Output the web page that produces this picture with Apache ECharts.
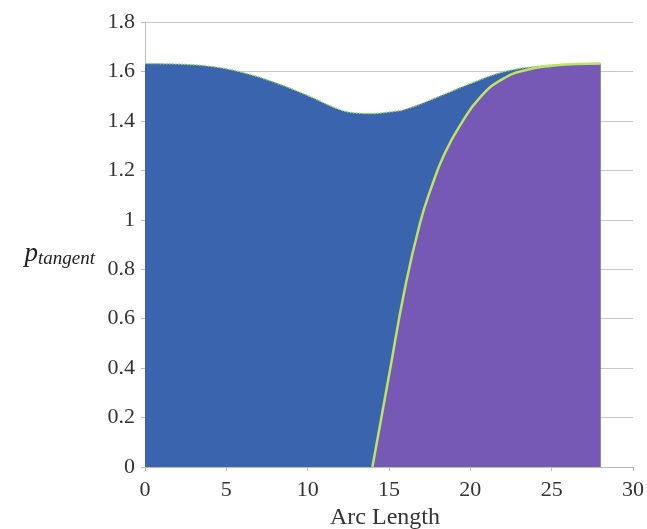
<!DOCTYPE html>
<html>
<head>
<meta charset="utf-8">
<script src="https://cdn.jsdelivr.net/npm/echarts@6/dist/echarts.min.js"></script>
<style>
  html, body { margin: 0; padding: 0; background: #fff; }
  #chart { width: 647px; height: 529px; }
</style>
</head>
<body>
<div id="chart"></div>
<script>
// total tangent momentum (blue)
var blueX = [0, 2, 4, 6, 8, 10, 12, 13, 14, 15, 16, 18, 20, 22, 24, 26, 28];
var blueY = [1.632, 1.630, 1.621, 1.596, 1.555, 1.503, 1.445, 1.432, 1.430, 1.436, 1.447, 1.497, 1.551, 1.598, 1.620, 1.629, 1.632];

// second region (purple)
var purpleX = [13.98, 15, 16, 16.9, 17.6, 18.4, 19.4, 20.6, 22, 23.5, 25, 26.5, 28];
var purpleY = [0, 0.37, 0.73, 0.985, 1.13, 1.265, 1.385, 1.495, 1.57, 1.607, 1.623, 1.630, 1.632];

var xTicks = { min: 0, max: 30, interval: 5 };
var yTicks = { min: 0, max: 1.8, interval: 0.2 };

function pairs(xs, ys) {
    return xs.map(function (x, i) { return [x, ys[i]]; });
}

var serif = 'Liberation Serif';
var chart = echarts.init(document.getElementById('chart'));

chart.setOption({
    animation: false,
    grid: { left: 145, right: 14, top: 22, bottom: 62, outerBoundsMode: 'none', containLabel: false },
    xAxis: {
        type: 'value',
        min: xTicks.min,
        max: xTicks.max,
        interval: xTicks.interval,
        name: 'Arc Length',
        nameLocation: 'middle',
        nameGap: 36,
        nameTextStyle: { fontFamily: serif, fontSize: 24, color: '#333', padding: [0, 8, 0, 0] },
        axisLine: { lineStyle: { color: '#bcbcbc' } },
        axisTick: { show: true, length: 4, lineStyle: { color: '#bcbcbc' } },
        axisLabel: { fontFamily: serif, fontSize: 22, color: '#333', margin: 12 },
        splitLine: { show: false }
    },
    yAxis: {
        type: 'value',
        min: yTicks.min,
        max: yTicks.max,
        interval: yTicks.interval,
        name: '{p|p}{s|tangent}',
        nameLocation: 'middle',
        nameRotate: 0,
        nameGap: 50,
        nameTextStyle: {
            padding: [18, 0, 0, 0],
            rich: {
                p: { fontFamily: serif, fontStyle: 'italic', fontSize: 27, color: '#222' },
                s: { fontFamily: serif, fontStyle: 'italic', fontSize: 19, color: '#222', padding: [10, 0, 0, 0] }
            }
        },
        axisLine: { show: true, lineStyle: { color: '#bcbcbc' } },
        axisTick: { show: true, length: 4, lineStyle: { color: '#bcbcbc' } },
        axisLabel: {
            fontFamily: serif, fontSize: 22, color: '#333', margin: 10,
            formatter: function (v) { return v === 0 || v === 1 ? String(v) : v.toFixed(1); }
        },
        splitLine: { show: true, lineStyle: { color: '#c8c8c8', width: 1 } }
    },
    series: [
        {
            type: 'line',
            data: pairs(blueX, blueY),
            smooth: 0.4,
            showSymbol: false,
            lineStyle: { color: '#a9dc5a', width: 1.5, type: 'dotted' },
            areaStyle: { color: '#3a64ae', opacity: 1 },
            z: 2
        },
        {
            type: 'line',
            data: pairs(purpleX, purpleY),
            smooth: 0.5,
            showSymbol: false,
            lineStyle: { color: '#bde564', width: 2.5 },
            areaStyle: { color: '#7559b5', opacity: 1 },
            z: 3
        }
    ]
});
</script>
</body>
</html>
